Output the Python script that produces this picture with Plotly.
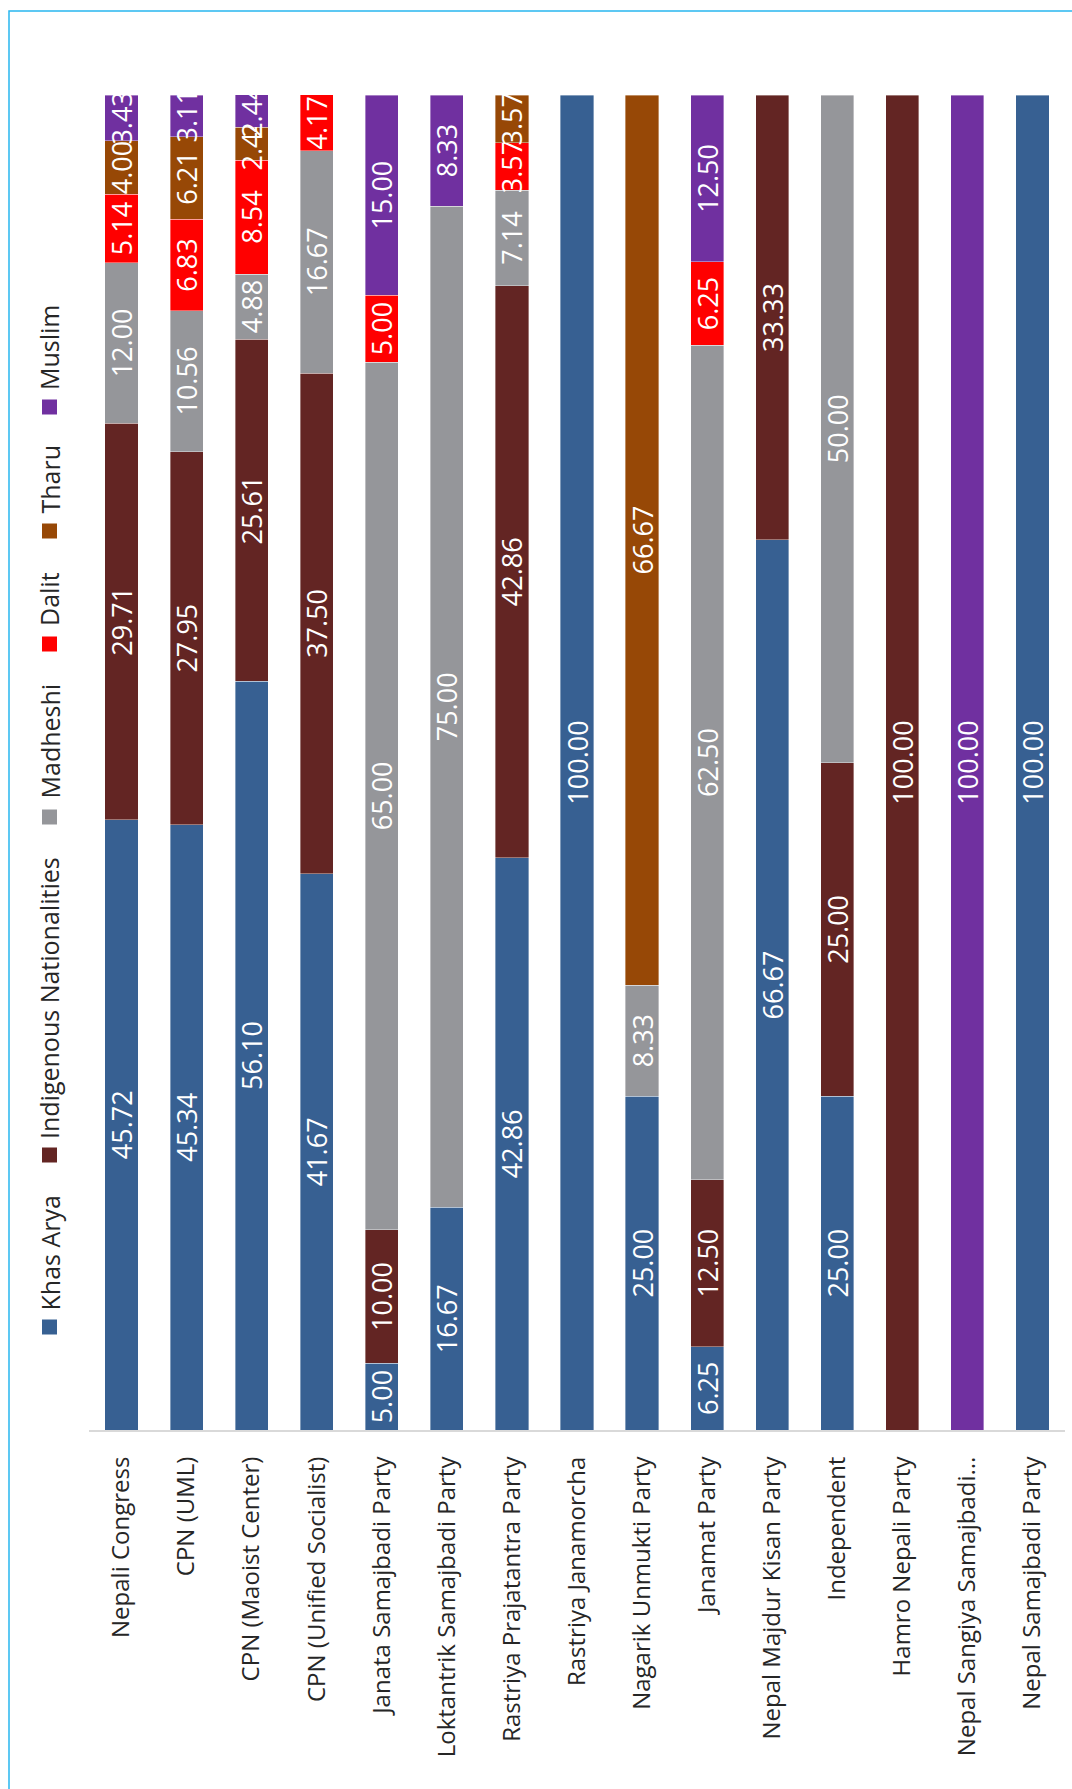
import plotly.graph_objects as go

parties = [
    "Nepali Congress", "CPN (UML)", "CPN (Maoist Center)", "CPN (Unified Socialist)",
    "Janata Samajbadi Party", "Loktantrik Samajbadi Party", "Rastriya Prajatantra Party",
    "Rastriya Janamorcha", "Nagarik Unmukti Party", "Janamat Party",
    "Nepal Majdur Kisan Party", "Independent", "Hamro Nepali Party",
    "Nepal Sangiya Samajbadi...", "Nepal Samajbadi Party",
]

khas_arya = [45.72, 45.34, 56.10, 41.67, 5.00, 16.67, 42.86, 100.00, 25.00, 6.25, 66.67, 25.00, None, None, 100.00]
indigenous = [29.71, 27.95, 25.61, 37.50, 10.00, None, 42.86, None, None, 12.50, 33.33, 25.00, 100.00, None, None]
madheshi = [12.00, 10.56, 4.88, 16.67, 65.00, 75.00, 7.14, None, 8.33, 62.50, None, 50.00, None, None, None]
dalit = [5.14, 6.83, 8.54, 4.17, 5.00, None, 3.57, None, None, 6.25, None, None, None, None, None]
tharu = [4.00, 6.21, 2.44, None, None, None, 3.57, None, 66.67, None, None, None, None, None, None]
muslim = [3.43, 3.11, 2.44, None, 15.00, 8.33, None, None, None, 12.50, None, None, None, 100.00, None]

series = [
    ("Khas Arya", khas_arya, "#376092"),
    ("Indigenous Nationalities", indigenous, "#632523"),
    ("Madheshi", madheshi, "#95969a"),
    ("Dalit", dalit, "#ff0000"),
    ("Tharu", tharu, "#974806"),
    ("Muslim", muslim, "#7030a0"),
]

FONT = "Open Sans"
TXT = "#262626"
W, H = 1072, 1789
L, R, T, B = 89, 7, 95, 359
PW, PH = W - L - R, H - T - B


def px_x(x):
    return (x - L) / PW


def px_y(y):
    return (H - B - y) / PH


fig = go.Figure()
for name, vals, color in series:
    fig.add_trace(go.Bar(
        x=parties, y=vals, name=name,
        marker=dict(color=color, line=dict(color="rgba(255,255,255,0.5)", width=0.75)),
        texttemplate="%{y:.2f}", textposition="inside", insidetextanchor="middle",
        textangle=-90, constraintext="none",
        textfont=dict(color="white", size=27, family=FONT),
        showlegend=False,
    ))

# legend drawn by hand, rotated like the rest of the chart
# (square centre y, text bottom y) in pixels
legend_pos = [(1327, 1313), (1155, 1141), (817, 801), (644, 628), (531, 516), (407, 392)]
shapes = []
annotations = []
for (name, _, color), (sq, tb) in zip(series, legend_pos):
    shapes.append(dict(type="rect", xref="paper", yref="paper",
                       x0=px_x(42), x1=px_x(57), y0=px_y(sq + 7.5), y1=px_y(sq - 7.5),
                       fillcolor=color, line=dict(width=0)))
    annotations.append(dict(text=name, xref="paper", yref="paper",
                            x=px_x(49), y=px_y(tb), xanchor="center", yanchor="bottom",
                            textangle=-90, showarrow=False,
                            font=dict(family=FONT, size=25, color=TXT)))

# frame
shapes.append(dict(type="rect", xref="paper", yref="paper",
                   x0=px_x(9), x1=px_x(1200), y0=px_y(2000), y1=px_y(11),
                   line=dict(color="#29b6f0", width=1.5), fillcolor="rgba(0,0,0,0)"))

fig.update_layout(
    width=W, height=H,
    margin=dict(l=L, r=R, t=T, b=B),
    barmode="stack", bargap=0.49,
    paper_bgcolor="white", plot_bgcolor="white",
    font=dict(family=FONT, color=TXT),
    shapes=shapes, annotations=annotations,
    xaxis=dict(tickangle=-90, showline=True, linecolor="#d9d9d9", linewidth=2,
               ticks="", ticklabelstandoff=15, tickfont=dict(size=24, color=TXT),
               showgrid=False),
    yaxis=dict(range=[0, 100], visible=False, showgrid=False),
)

fig.write_html("out.html", config={"displayModeBar": False},
               post_script="document.body.style.margin='0';")
